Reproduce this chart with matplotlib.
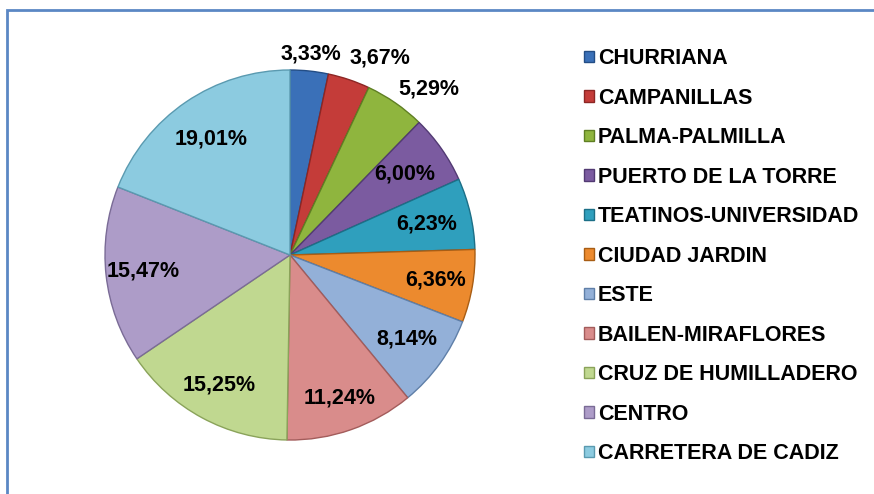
import numpy as np
import matplotlib
matplotlib.use('Agg')
import matplotlib.pyplot as plt
from matplotlib.patches import Rectangle

# data
barrios = ['CHURRIANA', 'CAMPANILLAS', 'PALMA-PALMILLA', 'PUERTO DE LA TORRE',
           'TEATINOS-UNIVERSIDAD', 'CIUDAD JARDIN', 'ESTE', 'BAILEN-MIRAFLORES',
           'CRUZ DE HUMILLADERO', 'CENTRO', 'CARRETERA DE CADIZ']
porcentajes = [3.33, 3.67, 5.29, 6.00, 6.23, 6.36, 8.14, 11.24, 15.25, 15.47, 19.01]

colores = ['#3a70b8', '#c43c39', '#8fb53e', '#7b5ba0', '#2f9fbd', '#ec8a2e',
           '#93b0d8', '#d98c8b', '#c0d890', '#ad9cc8', '#8ccbe0']
bordes = ['#234d85', '#8c2624', '#5f7f23', '#523a73', '#1c6f87', '#a85d14',
          '#5f7fa8', '#a35c5b', '#8aa35a', '#7a6b96', '#5a9ab0']

# label placement (radius factor, angle shift in degrees)
lab_r = [1.09, 1.17, 1.17, 0.76, 0.76, 0.8, 0.78, 0.82, 0.8, 0.8, 0.76]
lab_shift = [0, 6, 5, 0, 0, 0, 0, 0, 0, 0, 0]

plt.rcParams['font.family'] = ['Liberation Sans', 'DejaVu Sans']
plt.rcParams['font.weight'] = 'bold'

fig = plt.figure(figsize=(8.74, 4.94), dpi=100)
ax = fig.add_axes([105 / 874, 1 - 440 / 494, 370 / 874, 370 / 494])

wedges, _ = ax.pie(porcentajes, colors=colores, startangle=90, counterclock=False,
                   radius=1.0, wedgeprops=dict(linewidth=1.0))
for w, e in zip(wedges, bordes):
    w.set_edgecolor(e)

for w, v, r, s in zip(wedges, porcentajes, lab_r, lab_shift):
    ang = np.deg2rad((w.theta1 + w.theta2) / 2 - s)
    txt = f'{v:.2f}%'.replace('.', ',')
    ax.text(r * np.cos(ang), r * np.sin(ang), txt, ha='center', va='center',
            fontsize=15.5, fontweight='bold', color='black')

ax.set_xlim(-1, 1)
ax.set_ylim(-1, 1)
ax.set_aspect('equal')
ax.axis('off')

leg = fig.legend(wedges, barrios, loc='upper left', bbox_to_anchor=(584 / 874, 1 - 48 / 494),
                 frameon=False, fontsize=15.5, handlelength=0.45, handleheight=0.45,
                 handletextpad=0.2, labelspacing=0.86, borderaxespad=0, borderpad=0)
for t in leg.get_texts():
    t.set_fontweight('bold')

# chart border
fig.patches.append(Rectangle((6.5 / 874, -0.2), 2.0, 1.2 - 10 / 494, transform=fig.transFigure,
                             fill=False, edgecolor='#5b87c4', linewidth=2.0))

fig.savefig('out.png', dpi=100)
